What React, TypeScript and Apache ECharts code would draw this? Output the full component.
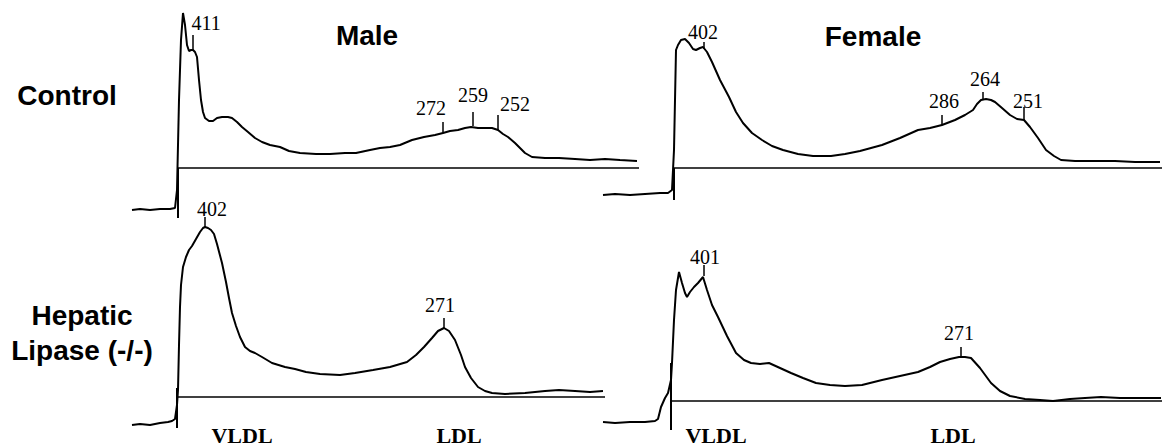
import React, { useEffect, useRef } from "react";
import * as echarts from "echarts";

// Densitometric traces: [relative mobility, absorbance]
const maleControlTrace: number[][] = [
  [-46, -42], [-38, -41], [-28, -42], [-18, -41], [-8, -41], [-3, -40], [-1, -22], [1, 68], [3, 128], [5, 155],
  [7, 143], [9, 123], [11, 117], [13, 118], [15, 118], [17, 116], [19, 111], [21, 88], [23, 68], [25, 56],
  [27, 50], [31, 47], [35, 47], [39, 50], [44, 51], [50, 51], [54, 50], [59, 46], [64, 41], [70, 36],
  [77, 30], [84, 26], [92, 23], [102, 21], [111, 17], [122, 15], [138, 14], [152, 14], [167, 15], [178, 15],
  [192, 18], [202, 20], [212, 21], [222, 23], [234, 28], [246, 31], [257, 33], [265, 35], [272, 37], [280, 38],
  [287, 40], [293, 41], [300, 40], [307, 40], [314, 40], [320, 38], [325, 34], [330, 31], [337, 25], [342, 20],
  [347, 15], [354, 11], [367, 10], [381, 10], [397, 9], [412, 8], [427, 9], [442, 8], [459, 7],
];
const femaleControlTrace: number[][] = [
  [-71, -27], [-59, -26], [-44, -27], [-29, -26], [-14, -25], [-6, -25], [-2, -22], [0, 18], [2, 118], [4, 123],
  [7, 128], [11, 129], [15, 125], [19, 119], [22, 118], [26, 120], [29, 121], [33, 116], [38, 106], [46, 88],
  [55, 71], [62, 56], [69, 45], [78, 35], [88, 28], [98, 22], [109, 18], [124, 14], [139, 12], [157, 12],
  [171, 14], [186, 17], [208, 23], [226, 30], [244, 38], [256, 40], [268, 43], [281, 48], [291, 53], [299, 58],
  [303, 64], [307, 68], [312, 69], [317, 68], [321, 66], [328, 60], [336, 53], [343, 49], [350, 48], [356, 41],
  [364, 30], [372, 18], [380, 12], [387, 8], [401, 7], [421, 7], [441, 7], [461, 6], [486, 6],
];
const maleHepaticTrace: number[][] = [
  [-45, -28], [-37, -27], [-27, -28], [-17, -26], [-9, -25], [-5, -24], [-2, -22], [0, -8], [1, 7], [2, 52],
  [3, 90], [4, 112], [6, 130], [9, 140], [12, 147], [15, 151], [19, 158], [23, 165], [26, 169], [28, 170],
  [31, 169], [34, 167], [37, 163], [40, 153], [45, 134], [49, 115], [52, 99], [55, 84], [59, 71], [63, 60],
  [68, 50], [73, 46], [78, 44], [85, 40], [95, 34], [108, 30], [118, 28], [129, 25], [143, 23], [163, 22],
  [178, 24], [196, 27], [213, 30], [230, 35], [239, 42], [247, 50], [255, 59], [261, 66], [267, 69], [272, 66],
  [278, 57], [284, 42], [288, 30], [294, 19], [301, 10], [308, 6], [315, 4], [328, 3], [348, 4], [368, 6],
  [382, 7], [398, 6], [413, 5], [426, 6],
];
const femaleHepaticTrace: number[][] = [
  [-68, -21], [-56, -22], [-41, -21], [-26, -21], [-16, -20], [-13, -18], [-10, -6], [-6, 3], [-3, 8], [0, 21],
  [1, 38], [3, 81], [5, 111], [8, 129], [11, 118], [14, 108], [16, 104], [19, 109], [23, 114], [27, 118],
  [32, 124], [36, 111], [41, 96], [47, 84], [56, 65], [65, 48], [73, 41], [80, 38], [89, 37], [98, 38],
  [109, 33], [120, 28], [132, 23], [145, 18], [159, 16], [174, 15], [191, 16], [211, 21], [229, 25], [247, 29],
  [259, 34], [269, 39], [279, 42], [288, 44], [294, 44], [300, 43], [309, 33], [320, 18], [329, 10], [339, 5],
  [354, 2], [369, 1], [382, 0], [399, 2], [414, 3], [430, 4], [449, 3], [469, 3], [490, 3],
];

// Peak marks: [mobility, trace level, tick top], labels
const maleControlPeaks: number[][] = [[15, 118, 133], [265, 35, 46], [295, 42, 56], [320, 38, 53]];
const maleControlPeakLabels = ["411", "272", "259", "252"];
const femaleControlPeaks: number[][] = [[30, 119, 126], [268, 43, 53], [309, 69, 76], [350, 48, 61]];
const femaleControlPeakLabels = ["402", "286", "264", "251"];
const maleHepaticPeaks: number[][] = [[28, 170, 180], [267, 69, 79]];
const maleHepaticPeakLabels = ["402", "271"];
const femaleHepaticPeaks: number[][] = [[33, 125, 136], [290, 44, 54]];
const femaleHepaticPeakLabels = ["401", "271"];

// Baseline ends and application-point marker extents
const baselineEnds = [461, 488, 428, 491];
const markerExtents: number[][] = [[0, -50], [0, -32], [9, -31], [38, -29]];

const columnTitles = ["Male", "Female"];
const rowTitles = ["Control", "Hepatic", "Lipase (-/-)"];
const fractionLabels = ["VLDL", "LDL"];

// label offsets (px) relative to tick tops
const labelOffsets: number[][][] = [
  [[13, -12], [-12, -14], [0, -17], [17, -11]],
  [[-1, -10], [2, -14], [2, -13], [4, -6]],
  [[7, -8], [-4, -13]],
  [[1, -8], [-2, -14]],
];

// panel frames: origin px, x range, y range
const panels = [
  { ox: 178, oy: 168, xr: [-50, 465], yr: [-60, 168] },
  { ox: 674, oy: 168, xr: [-75, 488], yr: [-60, 168] },
  { ox: 177, oy: 397, xr: [-50, 430], yr: [-40, 200] },
  { ox: 671, oy: 401, xr: [-72, 491], yr: [-35, 160] },
];

const traces = [maleControlTrace, femaleControlTrace, maleHepaticTrace, femaleHepaticTrace];
const peaks = [maleControlPeaks, femaleControlPeaks, maleHepaticPeaks, femaleHepaticPeaks];
const peakLabels = [maleControlPeakLabels, femaleControlPeakLabels, maleHepaticPeakLabels, femaleHepaticPeakLabels];

const SANS = "'Liberation Sans', Arial, sans-serif";
const SERIF = "'Liberation Serif', 'Times New Roman', serif";

export default function App() {
  const ref = useRef<HTMLDivElement>(null);
  useEffect(() => {
    if (!ref.current) return;
    const chart = echarts.init(ref.current, undefined, { renderer: "svg" });
    const grid: any[] = [];
    const xAxis: any[] = [];
    const yAxis: any[] = [];
    const series: any[] = [];
    panels.forEach((p, i) => {
      grid.push({
        left: p.ox + p.xr[0],
        top: p.oy - p.yr[1],
        width: p.xr[1] - p.xr[0],
        height: p.yr[1] - p.yr[0],
        containLabel: false,
      });
      xAxis.push({ type: "value", gridIndex: i, min: p.xr[0], max: p.xr[1], show: false });
      yAxis.push({ type: "value", gridIndex: i, min: p.yr[0], max: p.yr[1], show: false });
      series.push({
        type: "line",
        xAxisIndex: i,
        yAxisIndex: i,
        data: traces[i],
        showSymbol: false,
        symbol: "none",
        lineStyle: { color: "#000", width: 2 },
        silent: true,
      });
      series.push({
        type: "line",
        xAxisIndex: i,
        yAxisIndex: i,
        data: [[0, 0], [baselineEnds[i], 0]],
        showSymbol: false,
        symbol: "none",
        lineStyle: { color: "#000", width: 1.5 },
        silent: true,
      });
      series.push({
        type: "line",
        xAxisIndex: i,
        yAxisIndex: i,
        data: [[0, markerExtents[i][0]], [0, markerExtents[i][1]]],
        showSymbol: false,
        symbol: "none",
        lineStyle: { color: "#000", width: 2 },
        silent: true,
      });
      const labs = peakLabels[i];
      const offs = labelOffsets[i];
      series.push({
        type: "custom",
        xAxisIndex: i,
        yAxisIndex: i,
        data: peaks[i],
        silent: true,
        clip: false,
        renderItem: (params: any, api: any) => {
          const x = api.value(0);
          const a = api.coord([x, api.value(1)]);
          const b = api.coord([x, api.value(2)]);
          const o = offs[params.dataIndex];
          return {
            type: "group",
            children: [
              {
                type: "line",
                shape: { x1: a[0], y1: a[1], x2: b[0], y2: b[1] },
                style: { stroke: "#000", lineWidth: 1.5 },
              },
              {
                type: "text",
                x: b[0] + o[0],
                y: b[1] + o[1],
                style: {
                  text: labs[params.dataIndex],
                  fontFamily: SERIF,
                  fontSize: 20,
                  fill: "#000",
                  align: "center",
                  verticalAlign: "middle",
                },
              },
            ],
          };
        },
      });
    });

    const boldSans = (text: string, x: number, y: number) => ({
      type: "text",
      x,
      y,
      style: {
        text,
        fontFamily: SANS,
        fontWeight: "bold",
        fontSize: 28,
        fill: "#000",
        align: "center",
        verticalAlign: "middle",
      },
    });
    const serifLabel = (text: string, x: number) => ({
      type: "text",
      x,
      y: 435,
      style: {
        text,
        fontFamily: SERIF,
        fontWeight: "bold",
        fontSize: 22,
        fill: "#000",
        align: "center",
        verticalAlign: "middle",
      },
    });

    chart.setOption({
      animation: false,
      backgroundColor: "#fff",
      grid,
      xAxis,
      yAxis,
      series,
      graphic: [
        boldSans(columnTitles[0], 367, 35),
        boldSans(columnTitles[1], 873, 36),
        boldSans(rowTitles[0], 67, 95),
        boldSans(rowTitles[1], 82, 315),
        boldSans(rowTitles[2], 82, 350),
        serifLabel(fractionLabels[0], 242),
        serifLabel(fractionLabels[1], 459),
        serifLabel(fractionLabels[0], 716),
        serifLabel(fractionLabels[1], 953),
      ],
    });
    return () => chart.dispose();
  }, []);
  return (
    <div
      ref={ref}
      style={{ position: "absolute", left: 0, top: 0, width: 1162, height: 447, background: "#fff" }}
    />
  );
}
